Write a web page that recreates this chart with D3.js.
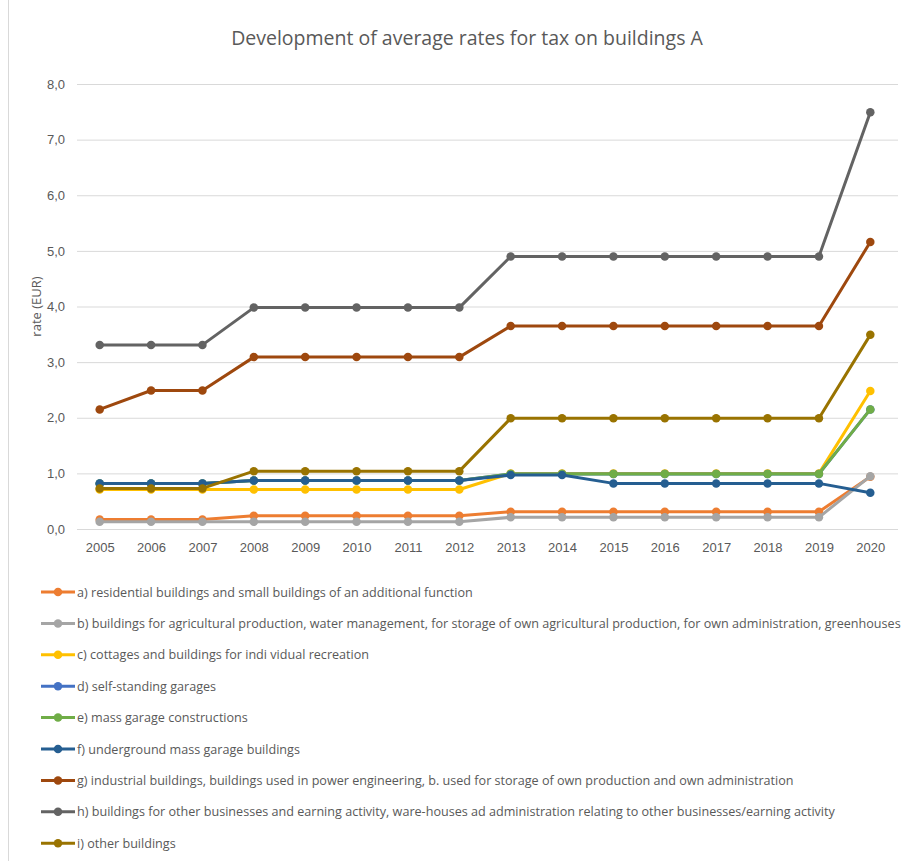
<!DOCTYPE html>
<html>
<head>
<meta charset="utf-8">
<script src="https://cdn.jsdelivr.net/npm/d3@7"></script>
<style>
  html, body { margin: 0; padding: 0; background: #fff; }
  svg { display: block; font-family: "Open Sans", "Noto Sans", sans-serif; }
</style>
</head>
<body>
<svg id="chart" width="909" height="861"></svg>
<script>
// Years on the category axis
const years = ["2005","2006","2007","2008","2009","2010","2011","2012",
               "2013","2014","2015","2016","2017","2018","2019","2020"];

// Average rate (EUR) per building category
const seriesA = [0.17,0.17,0.17,0.24,0.24,0.24,0.24,0.24,0.31,0.31,0.31,0.31,0.31,0.31,0.31,0.94];
const seriesB = [0.13,0.13,0.13,0.13,0.13,0.13,0.13,0.13,0.21,0.21,0.21,0.21,0.21,0.21,0.21,0.95];
const seriesC = [0.71,0.71,0.71,0.71,0.71,0.71,0.71,0.71,1.00,1.00,1.00,1.00,1.00,1.00,1.00,2.48];
const seriesD = [0.82,0.82,0.82,0.87,0.87,0.87,0.87,0.87,0.99,0.99,0.99,0.99,0.99,0.99,0.99,2.15];
const seriesE = [0.82,0.82,0.82,0.87,0.87,0.87,0.87,0.87,0.99,0.99,0.99,0.99,0.99,0.99,0.99,2.15];
const seriesF = [0.82,0.82,0.82,0.87,0.87,0.87,0.87,0.87,0.97,0.97,0.82,0.82,0.82,0.82,0.82,0.65];
const seriesG = [2.15,2.49,2.49,3.09,3.09,3.09,3.09,3.09,3.65,3.65,3.65,3.65,3.65,3.65,3.65,5.16];
const seriesH = [3.31,3.31,3.31,3.98,3.98,3.98,3.98,3.98,4.90,4.90,4.90,4.90,4.90,4.90,4.90,7.49];
const seriesI = [0.73,0.73,0.73,1.04,1.04,1.04,1.04,1.04,1.99,1.99,1.99,1.99,1.99,1.99,1.99,3.49];

const seriesNames = [
  "a) residential buildings and small buildings of an additional function",
  "b) buildings for agricultural production, water management, for storage of own agricultural production, for own administration, greenhouses",
  "c) cottages and buildings for indi vidual recreation",
  "d) self-standing garages",
  "e) mass garage constructions",
  "f) underground mass garage buildings",
  "g) industrial buildings, buildings used in power engineering, b. used for storage of own production and own administration",
  "h) buildings for other businesses and earning activity, ware-houses ad administration relating to other businesses/earning activity",
  "i) other buildings"
];
const seriesColors = ["#ED7D31","#A5A5A5","#FFC000","#4472C4","#70AD47","#255E91","#9E480E","#636363","#997300"];
const seriesValues = [seriesA, seriesB, seriesC, seriesD, seriesE, seriesF, seriesG, seriesH, seriesI];

const yTicks = [0,1,2,3,4,5,6,7,8];
const titleText = "Development of average rates for tax on buildings A";
const yAxisTitle = "rate (EUR)";

const svg = d3.select("#chart");
const textColor = "#595959";

// Plot area
const plot = { left: 74, right: 896, top: 84, bottom: 529 };

const x = d3.scalePoint().domain(years).range([plot.left, plot.right]).padding(0.5);
const y = d3.scaleLinear().domain([0, 8]).range([plot.bottom, plot.top]);

// Outer chart border (left edge)
svg.append("line")
  .attr("x1", 8.5).attr("x2", 8.5).attr("y1", 0).attr("y2", 861)
  .attr("stroke", "#d9d9d9").attr("stroke-width", 1);

// Title
svg.append("text")
  .attr("x", 467).attr("y", 45)
  .attr("text-anchor", "middle")
  .attr("fill", textColor)
  .style("font-size", "19.5px")
  .text(titleText);

// Horizontal gridlines + y labels
const yAxis = d3.axisLeft(y)
  .tickValues(yTicks)
  .tickSize(-(plot.right - plot.left - 1))
  .tickPadding(12)
  .tickFormat(d => d3.format(".1f")(d).replace(".", ","));

const gy = svg.append("g")
  .attr("transform", `translate(${plot.left + 3},0)`)
  .call(yAxis);
gy.select(".domain").remove();
gy.selectAll(".tick line").attr("stroke", "#d9d9d9").attr("stroke-width", 1);
gy.selectAll(".tick text").attr("fill", textColor).style("font-size", "13px");

// x labels
const xAxis = d3.axisBottom(x).tickSize(0).tickPadding(14);
const gx = svg.append("g")
  .attr("transform", `translate(0,${plot.bottom})`)
  .call(xAxis);
gx.select(".domain").remove();
gx.selectAll(".tick text").attr("fill", textColor).style("font-size", "13px");

// Y axis title
svg.append("text")
  .attr("transform", `translate(41,${(plot.top + plot.bottom) / 2}) rotate(-90)`)
  .attr("text-anchor", "middle")
  .attr("fill", textColor)
  .style("font-size", "13px")
  .text(yAxisTitle);

// Lines and markers
const line = d3.line().x((d, i) => x(years[i])).y(d => y(d));

seriesValues.forEach((vals, si) => {
  const g = svg.append("g");
  g.append("path")
    .datum(vals)
    .attr("d", line)
    .attr("fill", "none")
    .attr("stroke", seriesColors[si])
    .attr("stroke-width", 3)
    .attr("stroke-linejoin", "round");
  g.selectAll("circle")
    .data(vals)
    .join("circle")
    .attr("cx", (d, i) => x(years[i]))
    .attr("cy", d => y(d))
    .attr("r", 4.25)
    .attr("fill", seriesColors[si]);
});

// Legend
const legendTop = 592, legendStep = 31.4;
const lg = svg.append("g");
seriesNames.forEach((name, i) => {
  const yy = legendTop + i * legendStep;
  lg.append("line")
    .attr("x1", 41).attr("x2", 75).attr("y1", yy).attr("y2", yy)
    .attr("stroke", seriesColors[i]).attr("stroke-width", 3);
  lg.append("circle")
    .attr("cx", 58).attr("cy", yy).attr("r", 4.25)
    .attr("fill", seriesColors[i]);
  lg.append("text")
    .attr("x", 77).attr("y", yy + 4.5)
    .attr("fill", textColor)
    .style("font-size", "12.6px")
    .text(name);
});
</script>
</body>
</html>
